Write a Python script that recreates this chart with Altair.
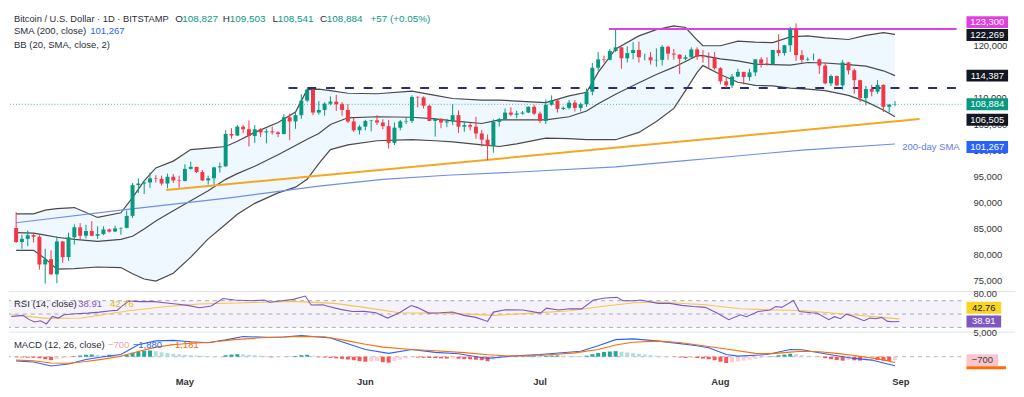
import altair as alt
import numpy as np
import pandas as pd

FONT = "Liberation Sans"
DARK = "#2a2e39"
UP, DOWN = "#089981", "#f23645"

# ---------------- daily candles, BTC/USD, thousand USD (2 Apr - 31 Aug 2025) ----------------
open_apr = [85.2, 82.5, 83.1, 83.8, 83.5, 78.2, 79.2, 76.3, 82.6, 79.6, 83.4, 85.3, 83.7, 84.6, 83.7, 84.0, 84.9, 84.5, 85.1, 85.2, 87.5, 93.4, 93.7, 93.9, 94.7, 94.6, 93.7, 95.0, 94.3]
high_apr = [88.2, 83.9, 84.7, 84.2, 83.8, 81.2, 80.9, 83.6, 82.7, 84.3, 85.9, 86.1, 85.8, 86.5, 85.5, 85.5, 85.1, 85.6, 85.3, 88.5, 93.8, 94.7, 94.0, 95.8, 95.3, 95.2, 95.6, 95.5, 95.2]
low_apr = [82.3, 81.2, 81.7, 82.4, 77.2, 74.5, 76.2, 74.6, 78.5, 78.9, 82.0, 82.9, 83.2, 83.6, 83.1, 83.8, 84.3, 84.4, 83.9, 85.1, 87.1, 91.9, 91.7, 92.9, 93.9, 93.3, 92.8, 93.8, 92.9]
close_apr = [82.5, 83.1, 83.8, 83.5, 78.2, 79.2, 76.3, 82.6, 79.6, 83.4, 85.3, 83.7, 84.6, 83.7, 84.0, 84.9, 84.5, 85.1, 85.2, 87.5, 93.4, 93.7, 93.9, 94.7, 94.6, 93.7, 95.0, 94.3, 94.2]

open_may = [94.2, 96.5, 96.9, 95.9, 94.3, 94.7, 96.8, 97.0, 103.2, 102.9, 104.6, 104.1, 102.8, 104.1, 103.5, 103.7, 103.5, 103.2, 106.4, 105.6, 106.8, 109.6, 111.7, 107.3, 107.8, 109.0, 109.4, 108.9, 107.8, 105.6, 103.9]
high_may = [97.4, 97.9, 96.9, 96.3, 95.2, 96.9, 97.7, 103.9, 104.3, 104.9, 104.9, 105.8, 104.9, 104.3, 104.2, 104.6, 103.7, 107.0, 107.1, 107.3, 110.8, 111.9, 111.8, 109.5, 109.3, 110.4, 110.7, 109.3, 108.9, 106.3, 104.9]
low_may = [94.1, 96.4, 95.7, 94.2, 93.5, 93.5, 95.8, 96.9, 102.3, 102.8, 103.3, 100.8, 101.5, 102.6, 101.4, 103.1, 102.6, 103.1, 102.0, 104.2, 106.1, 109.3, 106.8, 106.9, 106.7, 108.7, 107.6, 106.7, 105.3, 103.6, 103.1]
close_may = [96.5, 96.9, 95.9, 94.3, 94.7, 96.8, 97.0, 103.2, 102.9, 104.6, 104.1, 102.8, 104.1, 103.5, 103.7, 103.5, 103.2, 106.4, 105.6, 106.8, 109.6, 111.7, 107.3, 107.8, 109.0, 109.4, 108.9, 107.8, 105.6, 103.9, 104.6]

open_jun = [104.6, 105.7, 105.8, 105.4, 104.7, 101.5, 104.4, 105.6, 105.7, 110.3, 110.2, 108.6, 105.7, 106.1, 105.4, 105.6, 106.8, 104.6, 104.9, 104.6, 103.3, 102.1, 100.9, 105.5, 106.0, 107.3, 106.9, 107.1, 107.3, 108.4]
high_jun = [105.9, 105.9, 106.8, 106.0, 105.9, 105.4, 105.9, 106.4, 110.6, 110.4, 110.4, 108.8, 106.2, 106.2, 106.1, 108.9, 107.7, 105.6, 105.3, 106.5, 104.0, 103.1, 106.0, 106.3, 108.1, 108.3, 107.7, 107.6, 108.5, 108.8]
low_jun = [103.9, 103.7, 104.9, 104.1, 100.4, 101.1, 103.9, 105.1, 105.3, 108.3, 108.1, 105.7, 102.7, 104.3, 104.5, 104.9, 103.4, 103.6, 103.9, 102.3, 100.8, 98.2, 99.6, 104.6, 105.9, 106.6, 106.2, 106.9, 107.2, 106.8]
close_jun = [105.7, 105.8, 105.4, 104.7, 101.5, 104.4, 105.6, 105.7, 110.3, 110.2, 108.6, 105.7, 106.1, 105.4, 105.6, 106.8, 104.6, 104.9, 104.6, 103.3, 102.1, 100.9, 105.5, 106.0, 107.3, 106.9, 107.1, 107.3, 108.4, 107.1]

open_jul = [107.1, 105.7, 108.8, 109.6, 108.0, 108.2, 109.2, 108.2, 108.9, 111.3, 115.9, 117.5, 117.4, 119.1, 119.8, 117.7, 118.7, 119.3, 117.9, 117.9, 117.3, 117.4, 119.9, 118.6, 118.4, 117.6, 117.9, 119.4, 118.0, 117.9, 117.8]
high_jul = [107.5, 109.8, 110.6, 109.8, 108.5, 109.7, 109.7, 109.2, 111.9, 116.8, 118.9, 118.2, 119.5, 123.2, 119.9, 120.0, 120.8, 120.9, 118.6, 118.9, 119.6, 120.2, 120.1, 119.5, 118.5, 118.3, 119.8, 119.8, 119.3, 118.8, 118.9]
low_jul = [105.3, 105.1, 108.6, 107.3, 107.8, 107.9, 107.5, 107.5, 108.4, 110.6, 115.3, 116.9, 117.3, 118.9, 115.7, 116.9, 117.5, 116.9, 117.3, 116.5, 116.1, 116.3, 117.4, 117.4, 114.7, 117.3, 117.8, 117.4, 116.9, 115.8, 115.5]
close_jul = [105.7, 108.8, 109.6, 108.0, 108.2, 109.2, 108.2, 108.9, 111.3, 115.9, 117.5, 117.4, 119.1, 119.8, 117.7, 118.7, 119.3, 117.9, 117.9, 117.3, 117.4, 119.9, 118.6, 118.4, 117.6, 117.9, 119.4, 118.0, 117.9, 117.8, 115.8]

open_aug = [115.8, 113.3, 112.5, 114.2, 115.1, 114.1, 115.0, 117.5, 116.7, 116.5, 119.3, 118.7, 120.2, 123.3, 118.3, 117.4, 117.5, 117.5, 116.3, 112.9, 114.3, 112.5, 116.9, 115.4, 113.5, 110.1, 111.8, 111.3, 112.6, 108.4, 108.827]
high_aug = [116.0, 114.0, 114.7, 115.7, 115.1, 115.7, 117.6, 117.9, 117.9, 119.3, 122.3, 120.3, 123.7, 124.4, 119.3, 117.9, 118.6, 117.6, 116.8, 114.6, 114.4, 117.4, 117.0, 115.7, 113.6, 112.4, 112.6, 113.5, 112.7, 108.9, 109.503]
low_aug = [112.7, 112.0, 112.0, 114.1, 112.7, 113.4, 114.3, 115.9, 116.3, 116.5, 118.1, 118.2, 118.9, 117.2, 116.8, 117.2, 117.3, 114.7, 112.7, 112.4, 112.4, 111.7, 114.6, 110.9, 109.3, 108.7, 110.4, 110.9, 107.4, 107.3, 108.541]
close_aug = [113.3, 112.5, 114.2, 115.1, 114.1, 115.0, 117.5, 116.7, 116.5, 119.3, 118.7, 120.2, 123.3, 118.3, 117.4, 117.5, 117.5, 116.3, 112.9, 114.3, 112.5, 116.9, 115.4, 113.5, 110.1, 111.8, 111.3, 112.6, 108.4, 108.827, 108.884]

# ---------------- MACD histogram, daily ----------------
hist_apr = [-100, -160, -210, -210, -310, -520, -720, -520, -310, -160, 100, 250, 410, 470, 370, 310, 410, 310, 250, 410, 820, 1070, 1240, 1300, 1130, 930, 780, 620, 490]
hist_may = [410, 330, 270, 210, 140, 100, 60, 310, 450, 520, 470, 410, 330, 250, 160, -120, -100, -60, 60, 160, 310, 410, 210, -100, -160, -250, -330, -450, -580, -720, -930]
hist_jun = [-1030, -950, -910, -1130, -1240, -900, -600, -350, -100, -180, -220, -250, -300, -330, -370, -330, -410, -490, -540, -620, -720, -930, -620, -370, -210, -80, 60, 120, 160, 190]
hist_jul = [120, 160, 250, 270, 230, 210, 160, 140, 210, 520, 780, 990, 1090, 1170, 1030, 890, 740, 600, 450, 330, 210, 100, 20, -40, -160, -250, -210, -250, -370, -520, -720]
hist_aug = [-1030, -1300, -1130, -970, -800, -620, -450, -290, -140, 100, 310, 450, 620, 520, 310, 160, 40, -80, -310, -520, -680, -820, -660, -740, -800, -720, -660, -680, -820, -870, -700]

# ---------------- Bollinger Bands (20, 2), read at sample days, thousand USD ----------------
bb_days = ["04-02", "04-05", "04-07", "04-09", "04-12", "04-16", "04-20", "04-22", "04-24", "04-26", "04-29",
           "05-02", "05-05", "05-08", "05-10", "05-13", "05-17", "05-20", "05-22", "05-24", "05-26", "05-29",
           "06-03", "06-09", "06-13", "06-16", "06-21", "06-24", "06-27",
           "07-02", "07-06", "07-09", "07-11", "07-14", "07-18", "07-21", "07-24", "07-26", "07-28", "07-29",
           "08-01", "08-04", "08-07", "08-10", "08-13", "08-16", "08-19", "08-23", "08-26", "08-29", "08-31"]
bb_upper = [87.9, 87.9, 88.6, 88.9, 89.1, 87.2, 88.1, 91.0, 94.2, 96.7, 98.0,
            100.2, 100.5, 100.8, 101.8, 103.5, 105.4, 107.4, 111.7, 111.8, 111.5, 111.0,
            110.9, 111.4, 110.6, 110.0, 109.7, 109.7, 109.5,
            109.2, 110.5, 111.2, 115.0, 119.5, 122.0, 123.2, 123.9, 123.6, 121.2, 120.1,
            120.1, 121.0, 120.8, 120.7, 121.8, 122.0, 121.6, 121.3, 122.1, 122.6, 122.269]
bb_mid = [84.3, 84.2, 83.8, 83.4, 83.0, 82.6, 83.0, 83.6, 85.0, 86.5, 88.5,
          90.4, 92.3, 94.5, 95.6, 97.0, 99.2, 101.0, 102.2, 103.3, 105.0, 106.3,
          106.5, 106.4, 106.1, 105.7, 105.2, 105.9, 105.9,
          105.9, 106.5, 107.6, 109.0, 110.8, 113.0, 114.6, 116.0, 117.1, 118.2, 118.2,
          117.6, 117.2, 116.6, 116.5, 116.4, 116.9, 116.8, 116.5, 116.2, 115.3, 114.387]
bb_lower = [80.9, 80.9, 79.3, 77.3, 77.4, 77.7, 77.6, 76.4, 75.4, 75.0, 76.5,
            79.6, 83.1, 85.9, 87.8, 89.9, 91.9, 93.0, 94.5, 97.5, 100.2, 101.1,
            101.9, 102.1, 101.9, 101.7, 101.1, 100.8, 101.3,
            102.4, 102.3, 102.1, 102.1, 102.1, 103.5, 105.6, 108.1, 111.5, 115.0, 116.3,
            114.6, 113.1, 112.5, 112.4, 112.0, 111.8, 111.5, 110.6, 109.4, 107.8, 106.505]

# ---------------- SMA 200 ----------------
sma_days = ["04-02", "04-20", "05-09", "05-24", "06-04", "06-15", "06-29", "07-14", "07-24", "08-01", "08-09", "08-15", "08-31"]
sma_vals = [86.2, 88.6, 91.0, 93.2, 94.5, 95.3, 96.0, 96.9, 97.9, 98.7, 99.5, 100.1, 101.267]

# ---------------- RSI (14) and its MA ----------------
rsi_days = ["04-02", "04-04", "04-05", "04-06", "04-07", "04-08", "04-09", "04-10", "04-11", "04-13", "04-15", "04-17", "04-19", "04-20", "04-21", "04-22", "04-24", "04-26", "04-28", "04-30",
            "05-02", "05-04", "05-06", "05-08", "05-10", "05-13", "05-15", "05-16", "05-18", "05-20", "05-22", "05-23", "05-25", "05-26", "05-28", "05-30",
            "06-01", "06-03", "06-05", "06-07", "06-09", "06-10", "06-12", "06-14", "06-16", "06-18", "06-20", "06-22", "06-23", "06-25", "06-28",
            "07-01", "07-02", "07-04", "07-06", "07-08", "07-10", "07-12", "07-14", "07-15", "07-17", "07-18", "07-21", "07-23", "07-25", "07-27", "07-29", "07-31",
            "08-02", "08-04", "08-05", "08-07", "08-09", "08-10", "08-11", "08-13", "08-14", "08-16", "08-17", "08-19", "08-20", "08-21", "08-22", "08-23", "08-25", "08-26", "08-27", "08-28", "08-29", "08-30", "08-31"]
rsi_vals = [46.4, 48, 42, 38.1, 40, 35.2, 46.4, 44, 48.9, 50.5, 51.4, 52.9, 54.9, 55.5, 63, 69.4, 68.6, 69, 67, 65,
            63, 59.5, 62, 73.3, 71, 70, 71, 67.6, 70, 72, 76.9, 63.6, 64, 61.2, 57, 53.8,
            54, 52, 44, 52, 62.8, 60, 51.4, 52, 53, 48, 45, 39, 52.9, 56.3, 56,
            51.4, 58.8, 56, 58, 57.8, 71.1, 74, 75, 70, 70, 71, 66, 66, 63, 61.2, 60, 51.4,
            41.5, 48.9, 46, 53.8, 56, 61.2, 60, 70.1, 53.8, 52, 51.4, 41.5, 46, 43, 49.9, 47, 40, 44, 43, 45, 39, 38.5, 38.91]
rsima_days = ["04-02", "04-08", "04-14", "04-22", "04-28", "05-04", "05-12", "05-20", "05-27", "06-01", "06-07", "06-16", "06-23",
              "06-29", "07-06", "07-12", "07-17", "07-21", "07-29", "08-04", "08-10", "08-15", "08-23", "08-28", "08-31"]
rsima_vals = [49, 43.5, 44, 55, 61, 65, 67, 69, 66, 60, 52, 51, 48, 51, 55, 62, 67, 68, 64, 58, 56, 55, 49, 45, 42.76]
rsi_levels = [70, 50, 30]

# ---------------- MACD (12, 26) and signal ----------------
macd_days = ["04-02", "04-05", "04-08", "04-11", "04-14", "04-17", "04-20", "04-23", "04-26", "04-29", "05-02", "05-05", "05-08", "05-11",
             "05-15", "05-18", "05-21", "05-24", "05-26", "05-29", "06-01", "06-05", "06-09", "06-13", "06-17", "06-22", "06-26", "07-01",
             "07-08", "07-11", "07-14", "07-17", "07-21", "07-24", "07-28", "07-30", "08-02", "08-04", "08-07", "08-09", "08-13", "08-15",
             "08-18", "08-21", "08-24", "08-27", "08-29", "08-31"]
macd_vals = [-900, -1100, -1940, -1500, -560, 0, 470, 2500, 3300, 3400, 3100, 2900, 3500, 4200,
             4040, 4100, 4390, 4100, 3900, 2700, 1500, 700, 1500, 900, 620, -350, 120, 470,
             1150, 2300, 3560, 3710, 3300, 2880, 2300, 1850, 450, 120, 300, 470, 1500, 1450,
             820, 200, -350, -700, -1300, -1880]
sig_days = ["04-02", "04-05", "04-08", "04-11", "04-14", "04-17", "04-20", "04-23", "04-26", "04-29", "05-02", "05-05", "05-09", "05-14",
            "05-18", "05-21", "05-25", "05-29", "06-01", "06-04", "06-09", "06-13", "06-18", "06-22", "06-26", "07-01", "07-07", "07-11",
            "07-14", "07-17", "07-21", "07-25", "07-29", "08-02", "08-07", "08-10", "08-13", "08-15", "08-18", "08-21", "08-24", "08-27",
            "08-29", "08-31"]
sig_vals = [-700, -850, -1300, -1350, -1000, -500, 100, 1100, 2000, 2500, 2800, 2950, 3500, 3950,
            4100, 4200, 4150, 3300, 2600, 2000, 1500, 1250, 850, 400, 150, 250, 800, 1500,
            2450, 3000, 3250, 2950, 2300, 1600, 700, 650, 950, 1150, 1050, 700, 250, -250,
            -650, -1181]

# ---------------- drawn levels and axis ticks ----------------
trend_from, trend_from_val = "2025-04-27T19:00:00Z", 92.45
trend_to, trend_to_val = "2025-09-04T05:00:00Z", 106.05
resist_from, resist_val = "2025-05-18T19:00:00Z", 111.99
top_from, top_val = "2025-07-12T21:00:00Z", 123.3
price_ticks = [75000, 80000, 85000, 90000, 95000, 100000, 105000, 110000, 120000]
rsi_ticks = [80]
macd_ticks = [5000]
month_ticks = ["2025-05-01", "2025-06-01", "2025-07-01", "2025-08-01", "2025-09-01"]
month_names = ["May", "Jun", "Jul", "Aug", "Sep"]

# ---------------- tables ----------------
K = 1000.0
dates = pd.date_range("2025-04-02", "2025-08-31", freq="D").strftime("%Y-%m-%d")
candles = pd.DataFrame({
    "date": dates,
    "open": np.array(open_apr + open_may + open_jun + open_jul + open_aug) * K,
    "high": np.array(high_apr + high_may + high_jun + high_jul + high_aug) * K,
    "low": np.array(low_apr + low_may + low_jun + low_jul + low_aug) * K,
    "close": np.array(close_apr + close_may + close_jun + close_jul + close_aug) * K,
    "hist": hist_apr + hist_may + hist_jun + hist_jul + hist_aug,
})
h = candles["hist"]
prev = h.shift(1).fillna(h)
candles["kind"] = np.where(h >= 0, np.where(h >= prev, "pu", "pd"), np.where(h <= prev, "nd", "nu"))


def day(s):
    return "2025-" + s


bb = pd.DataFrame({"date": [day(d) for d in bb_days], "upper": np.array(bb_upper) * K,
                   "mid": np.array(bb_mid) * K, "lower": np.array(bb_lower) * K})
sma = pd.DataFrame({"date": [day(d) for d in sma_days], "v": np.array(sma_vals) * K})
rsi = pd.DataFrame({"date": [day(d) for d in rsi_days], "v": rsi_vals})
rsima = pd.DataFrame({"date": [day(d) for d in rsima_days], "v": rsima_vals})
macd = pd.DataFrame({"date": [day(d) for d in macd_days], "v": macd_vals})
sig = pd.DataFrame({"date": [day(d) for d in sig_days], "v": sig_vals})
one = pd.DataFrame({"a": [0]})
pticks = pd.DataFrame({"v": price_ticks})
rticks = pd.DataFrame({"v": rsi_ticks})
mticks = pd.DataFrame({"v": macd_ticks})
months = pd.DataFrame({"date": month_ticks, "name": month_names})

# ---------------- layout ----------------
W, H1, H2, H3 = 962, 282, 42, 40
DAY_PX = 5.94
x0 = pd.Timestamp("2025-04-01 15:00", tz="UTC")
x1 = x0 + pd.Timedelta(days=W / DAY_PX)
x_end_iso = x1.strftime("%Y-%m-%dT%H:%M:%SZ")
xs = alt.Scale(type="utc", domain=[int(x0.value // 10**6), int(x1.value // 10**6)])
ps = alt.Scale(domain=[73280, 126790], nice=False, zero=False)
rs = alt.Scale(domain=[23.6, 85.85], nice=False, zero=False)
mscale = alt.Scale(domain=[-3028, 5212], nice=False, zero=False)

trend = pd.DataFrame({"x0": [trend_from], "x1": [trend_to], "y0": [trend_from_val * K], "y1": [trend_to_val * K]})
resist = pd.DataFrame({"x0": [resist_from], "x1": [x_end_iso], "y": [resist_val * K]})
top = pd.DataFrame({"x0": [top_from], "x1": [x_end_iso], "y": [top_val * K]})


def X(f):
    return alt.X(f + ":T", scale=xs, axis=None)


def txt(s, x, y, color, size=9.6, weight="normal", align="left"):
    return alt.Chart(one).mark_text(text=s, font=FONT, fontSize=size, fontWeight=weight, color=color,
                                    align=align, baseline="middle").encode(x=alt.value(x), y=alt.value(y))


def box(value, scale, fill, label, tcolor, dy=0, xa=W + 5, xb=W + 47, thick=12):
    out = [alt.Chart(one).mark_rule(color=fill, strokeWidth=thick, strokeCap="butt", yOffset=dy).encode(
        x=alt.value(xa), x2=alt.value(xb), y=alt.YDatum(value, scale=scale, axis=None))]
    if label:
        out.append(alt.Chart(one).mark_text(text=label, font=FONT, fontSize=9.5, color=tcolor, align="center",
                                            baseline="middle", yOffset=dy).encode(
            x=alt.value((xa + xb) / 2), y=alt.YDatum(value, scale=scale, axis=None)))
    return out


def tick_labels(df, scale, fmt):
    return alt.Chart(df).mark_text(font=FONT, fontSize=9.5, color="#333333", align="left", baseline="middle").encode(
        x=alt.value(W + 12), y=alt.Y("v:Q", scale=scale, axis=None), text=alt.Text("v:Q", format=fmt))


# ---------------- price pane ----------------
P = lambda f: alt.Y(f, scale=ps, axis=None)
up = alt.datum.close >= alt.datum.open
dn = alt.datum.close < alt.datum.open
layers = [
    alt.Chart(bb).mark_area(color="#2196f3", opacity=0.07).encode(x=X("date"), y=P("upper:Q"), y2="lower:Q"),
]
for col in ["upper", "mid", "lower"]:
    layers.append(alt.Chart(bb).mark_line(color="#4a4a4a", strokeWidth=1.2).encode(x=X("date"), y=P(col + ":Q")))
layers += [
    alt.Chart(sma).mark_line(color="#6f8fe9", strokeWidth=1.1).encode(x=X("date"), y=P("v:Q")),
    alt.Chart(trend).mark_rule(color="#f5a623", strokeWidth=2).encode(x=X("x0"), x2=alt.X2("x1"), y=P("y0:Q"), y2=alt.Y2("y1")),
    alt.Chart(resist).mark_rule(color="#2b2d78", strokeWidth=2, strokeDash=[9, 10]).encode(x=X("x0"), x2=alt.X2("x1"), y=P("y:Q")),
    alt.Chart(top).mark_rule(color="#e040e0", strokeWidth=2).encode(x=X("x0"), x2=alt.X2("x1"), y=P("y:Q")),
    alt.Chart(one).mark_rule(color="#089981", strokeDash=[1, 2], strokeWidth=1, opacity=0.7).encode(
        y=alt.YDatum(float(candles["close"].iloc[-1]), scale=ps, axis=None)),
    alt.Chart(candles).transform_filter(up).mark_rule(color=UP, strokeWidth=1).encode(x=X("date"), y=P("low:Q"), y2=alt.Y2("high")),
    alt.Chart(candles).transform_filter(dn).mark_rule(color=DOWN, strokeWidth=1).encode(x=X("date"), y=P("low:Q"), y2=alt.Y2("high")),
    alt.Chart(candles).transform_filter(up).mark_bar(color=UP, size=4).encode(x=X("date"), y=P("open:Q"), y2=alt.Y2("close")),
    alt.Chart(candles).transform_filter(dn).mark_bar(color=DOWN, size=4).encode(x=X("date"), y=P("open:Q"), y2=alt.Y2("close")),
    tick_labels(pticks, ps, ","),
    txt("Bitcoin / U.S. Dollar · 1D · BITSTAMP", 5, 7.8, DARK, 9.4),
    txt("O", 168, 7.8, DARK, 10), txt("108,827", 175, 7.8, UP, 10),
    txt("H", 216, 7.8, DARK, 10), txt("109,503", 223, 7.8, UP, 10),
    txt("L", 266, 7.8, DARK, 10), txt("108,541", 271.5, 7.8, UP, 10),
    txt("C", 314, 7.8, DARK, 10), txt("108,884", 321, 7.8, UP, 10),
    txt("+57 (+0.05%)", 365, 7.8, UP, 10),
    txt("SMA (200, close)", 5, 20, DARK), txt("101,267", 82, 20, "#2962ff"),
    txt("BB (20, SMA, close, 2)", 5, 34.7, DARK),
    txt("200-day SMA", 902, 138, "#5b7fe8"),
]
layers += box(top_val * K, ps, "#e040e0", "123,300", "white", dy=-7)
layers += box(bb_upper[-1] * K, ps, "#131722", f"{bb_upper[-1] * K:,.0f}", "white", dy=0.5)
layers += box(bb_mid[-1] * K, ps, "#131722", f"{bb_mid[-1] * K:,.0f}", "white")
layers += box(float(candles["close"].iloc[-1]), ps, UP, f"{candles['close'].iloc[-1]:,.0f}", "white")
layers += box(bb_lower[-1] * K, ps, "#131722", f"{bb_lower[-1] * K:,.0f}", "white", dy=3)
layers += box(sma_vals[-1] * K, ps, "#2962ff", f"{sma_vals[-1] * K:,.0f}", "white", dy=3)
price = alt.layer(*layers).properties(width=W, height=H1)

# ---------------- RSI pane ----------------
R = lambda f: alt.Y(f, scale=rs, axis=None)
rl = [
    alt.Chart(one).mark_rule(color="#e0e3eb", strokeWidth=1).encode(x=alt.value(0), x2=alt.value(W + 54), y=alt.value(1.5)),
    alt.Chart(one).mark_rect(color="#7e57c2", opacity=0.08).encode(
        x=alt.value(0), x2=alt.value(W), y=alt.YDatum(70, scale=rs, axis=None), y2=alt.Y2Datum(30)),
    alt.Chart(pd.DataFrame({"lv": rsi_levels})).mark_rule(color="#9598a1", strokeDash=[4, 4], strokeWidth=1, opacity=0.8).encode(
        y=R("lv:Q")),
    alt.Chart(rsima).mark_line(color="#f2c94c", strokeWidth=1.1).encode(x=X("date"), y=R("v:Q")),
    alt.Chart(rsi).mark_line(color="#7e57c2", strokeWidth=1.1).encode(x=X("date"), y=R("v:Q")),
    tick_labels(rticks, rs, ".2f"),
    txt("RSI (14, close)", 5, 14, DARK), txt("38.91", 70, 14, "#7e57c2"), txt("42.76", 102, 14, "#e2b714"),
]
rl += box(rsima_vals[-1], rs, "#f9d423", "42.76", "#131722", dy=-11.3, xb=W + 40)
rl += box(rsi_vals[-1], rs, "#7e57c2", "38.91", "white", xb=W + 40)
rsi_chart = alt.layer(*rl).properties(width=W, height=H2)

# ---------------- MACD pane ----------------
M = lambda f: alt.Y(f, scale=mscale, axis=None)
ml = [
    alt.Chart(one).mark_rule(color="#e0e3eb", strokeWidth=1).encode(x=alt.value(0), x2=alt.value(W + 54), y=alt.value(0.5)),
    alt.Chart(one).mark_rule(color="#b2b5be", strokeDash=[4, 4], strokeWidth=1).encode(y=alt.YDatum(0, scale=mscale, axis=None)),
    alt.Chart(candles).mark_bar(size=4).encode(
        x=X("date"), y=M("hist:Q"), y2=alt.Y2Datum(0),
        color=alt.Color("kind:N", scale=alt.Scale(domain=["pu", "pd", "nd", "nu"],
                                                  range=["#26a69a", "#b2dfdb", "#ff5252", "#ffcdd2"]), legend=None)),
    alt.Chart(macd).mark_line(color="#2962ff", strokeWidth=1.1).encode(x=X("date"), y=M("v:Q")),
    alt.Chart(sig).mark_line(color="#ff6d00", strokeWidth=1.1).encode(x=X("date"), y=M("v:Q")),
    tick_labels(mticks, mscale, ","),
    alt.Chart(months).mark_text(font=FONT, fontSize=9.5, fontWeight="bold", color="#333333", align="center",
                                baseline="middle").encode(x=X("date"), y=alt.value(H3 + 10.5), text="name:N"),
    txt("MACD (12, 26, close)", 5, 13, DARK), txt("−700", 100, 13, "#f4a0b3"),
    txt("−1,880", 125, 13, "#2962ff"), txt("−1,181", 162, 13, "#ff6d00"),
]
ml += box(sig_vals[-1], mscale, "#ff6d00", "", "white", dy=5.5, xb=W + 45, thick=3)
ml += box(-700, mscale, "#fbc5cf", "−700", "#3a3a3a", xb=W + 37)
macd_chart = alt.layer(*ml).properties(width=W, height=H3)

chart = (
    alt.vconcat(price, rsi_chart, macd_chart, spacing=0, bounds="flush")
    .resolve_scale(x="independent", y="independent", color="independent")
    .properties(padding={"left": 0, "right": 0, "top": 0, "bottom": 0}, background="white")
    .configure_view(stroke="transparent")
)
chart.save("out.html", embed_options={"renderer": "svg", "actions": False})
